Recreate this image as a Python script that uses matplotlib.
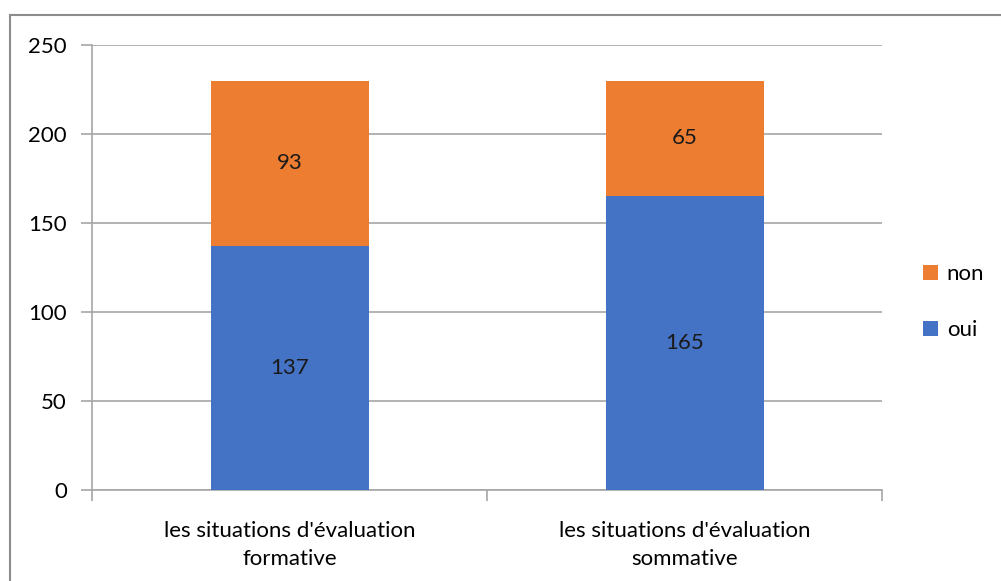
import matplotlib.pyplot as plt
from matplotlib.patches import Rectangle

categories = ["les situations d'évaluation\nformative", "les situations d'évaluation\nsommative"]
oui = [137, 165]
non = [93, 65]

plt.rcParams['font.family'] = ['Lato', 'DejaVu Sans']

fig = plt.figure(figsize=(10.01, 5.81), dpi=100)
# outer chart border
fig.patches.append(Rectangle((10 / 1001, -0.1), 1.2, 1 - 15 / 581 + 0.1, transform=fig.transFigure,
                             fill=False, edgecolor="#8c8c8c", linewidth=1.5))

ax = fig.add_axes([92 / 1001, 1 - 490 / 581, 790 / 1001, 445 / 581])
x = range(len(categories))
b1 = ax.bar(x, oui, width=0.4, color="#4472C4", label="oui", zorder=3)
b2 = ax.bar(x, non, width=0.4, bottom=oui, color="#ED7D31", label="non", zorder=3)
ax.bar_label(b1, labels=[str(v) for v in oui], label_type="center", fontsize=16, color="#1a1a1a")
ax.bar_label(b2, labels=[str(v) for v in non], label_type="center", fontsize=16, color="#1a1a1a")

ax.set_xlim(-0.5, 1.5)
ax.set_ylim(0, 250)
ax.set_yticks([0, 50, 100, 150, 200, 250])
ax.yaxis.grid(True, color="#a6a6a6", linewidth=1.2, zorder=0)
ax.set_xticks(list(x))
ax.set_xticklabels(categories, fontsize=16, linespacing=1.55)
ax.set_xticks([-0.5, 0.5, 1.5], minor=True)
ax.tick_params(axis="x", which="major", length=0, pad=22)
ax.tick_params(axis="x", which="minor", length=8, color="#a6a6a6", width=1.2)
ax.tick_params(axis="y", length=8, color="#a6a6a6", width=1.2, labelsize=16, pad=10)
for s in ["top", "right"]:
    ax.spines[s].set_visible(False)
for s in ["left", "bottom"]:
    ax.spines[s].set_color("#a6a6a6")
    ax.spines[s].set_linewidth(1.2)

h, l = ax.get_legend_handles_labels()
ax.legend(h[::-1], l[::-1], loc="center left", bbox_to_anchor=(1.027, 0.422), frameon=False,
          fontsize=16, handlelength=0.65, handleheight=0.65, labelspacing=1.6, handletextpad=0.4)

fig.savefig("out.png", dpi=100)
